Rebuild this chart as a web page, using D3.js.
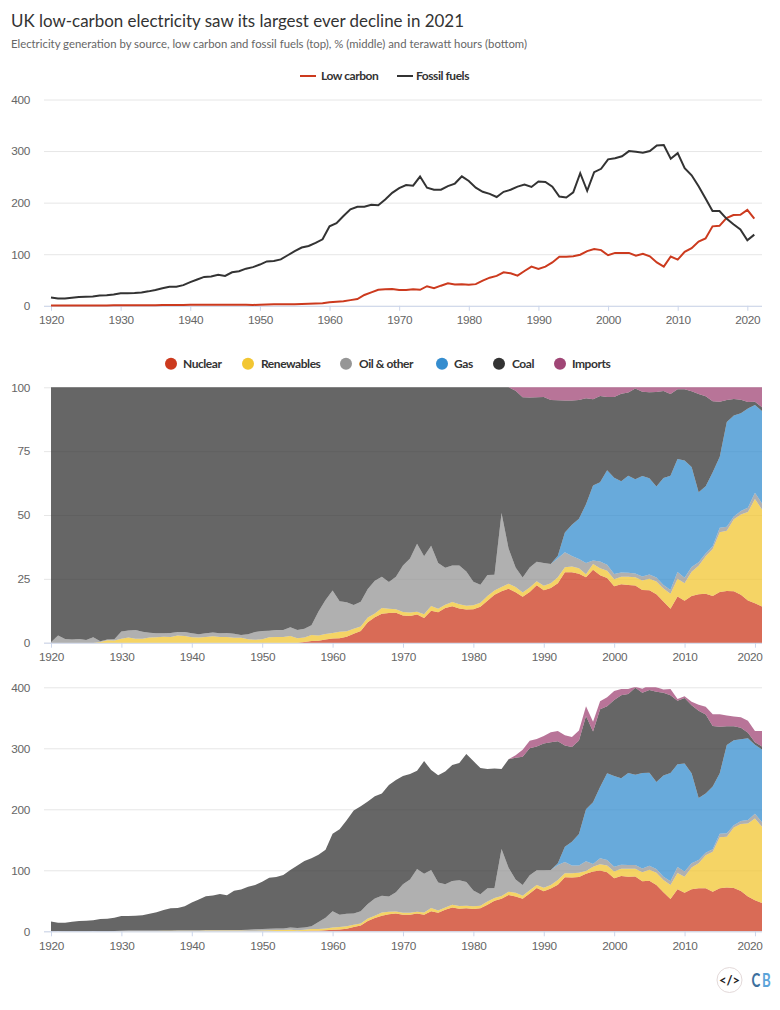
<!DOCTYPE html>
<html>
<head>
<meta charset="utf-8">
<script src="https://cdn.jsdelivr.net/npm/d3@7"></script>
<style>
	body { margin: 0; background: #fff; }
	svg { display: block; font-family: Lato, "Open Sans", sans-serif; }
	.tick text { fill: #666; font-size: 11.8px; letter-spacing: -0.3px; }
	.grid line { stroke: #e6e6e6; }
	.legend text { fill: #333; font-size: 12px; font-weight: bold; letter-spacing: -0.45px; }
</style>
</head>
<body>
<svg id="chart" width="780" height="1010"></svg>
<script>
// readings in TWh, 1920 to 2021
const years = d3.range(1920, 2022);
const nuclear = [0,0,0,0,0,0,0,0,0,0,0,0,0,0,0,0,0,0,0,0,0,0,0,0,0,0,0,0,0,0,0,0,0,0,0,0,
	0.3,0.8,1,1.7,2.6,2.9,4.2,6.9,9.4,17,22,25.5,28,29,27,27,29,27,33,30.6,35.5,39,37,37.7,36.6,37.7,43.7,50,53.5,59.6,57,53.5,62,71,65.6,70,76.5,88.5,88,89,94.5,98,99.5,97,87,90.7,89.6,90,82,83,76,64,53,69,63.4,69,70.5,70.5,65,70.5,71.6,71,66,57,50.8,46.4];
const renewables = [0,0,0,0,0,0,0,0.05,0.2,0.2,0.38,0.5,0.4,0.4,0.57,0.68,0.8,0.83,1.06,1.07,1,1.04,1.3,1.5,1.34,1.3,1.3,1.3,1,0.84,1.13,1.9,2,2.1,2.6,1.9,2.05,2.8,2.6,2.9,3.5,4.3,4,4,3.5,3.9,3.3,5.2,4,3.5,3.5,3.5,3,4,5,3.4,3.5,4.5,4.5,4.3,4.4,4.3,5,4.5,4.5,5.4,6,4.9,5.5,5,5.8,6,7.5,6.5,7,7,4.5,8,10.5,11,11,12,13,12.6,15,18,20,20,23,26.5,26.2,35.5,41.2,54.2,65.5,83.5,83.4,99,110,119.6,134,125];
const oil = [0.03,0.39,0.2,0.2,0.25,0.18,0.39,0.06,0.06,0.11,0.7,0.7,0.87,0.72,0.54,0.47,0.48,0.6,0.53,0.66,0.75,0.68,0.8,0.81,0.92,0.94,1,0.75,1.4,2.36,2.6,2.2,2.4,2.5,3.5,3.5,3.9,4.6,11.8,17.8,26.7,20,20.7,18.4,19.9,23.9,28.4,27.6,25,31.5,46.5,54.5,70,63.5,62.5,46,38,39,42,39,25.7,18.7,21.8,16.5,77,39,22,17.6,24.5,24,28.6,24.5,24.7,18.7,13,12,16,4.5,9.7,9,8,6.4,6,6,6,6.6,6,5.6,6,10,8.4,7,5.3,4,4,6,5.6,4,5,6,8,7.5];
const gas = [0,0,0,0,0,0,0,0,0,0,0,0,0,0,0,0,0,0,0,0,0,0,0,0,0,0,0,0,0,0,0,0,0,0,0,0,0,0,0,0,0,0,0,0,0,0,0,0,0,0,0,0,0,0,0,0,0,0,0,0,0,0,0,0,0,0,0,0,0,0,0,0,
	3,25,39,51.6,85,101,117,142,148.6,142,151,148,156.6,152.4,142.8,166,177.6,168.5,177,147.5,101.6,97,103,99,145,139,134,134,113,119];
const coal = [16,13.6,13.8,15.3,16.8,17.3,17.6,19.9,20.4,21.9,23.8,23.8,24.1,25.3,27.5,30,33.5,36.4,36.5,39.3,45.3,50.3,55.2,56.2,59,57,64,66.3,70.6,72.6,77.4,83.8,84.6,87.5,94.5,102.5,109,111.4,110.2,111.2,127.3,140,153.3,168.6,172,168,167.6,167.4,183,184,177.6,173,161,184.5,164,176,185,190,192.4,209.7,212.3,207,195.5,196,131,178,199.7,210,208,203,208,209.5,200,166,155,153,153,116,127.5,110,124.4,136,129.6,142.5,131.4,135.6,148,135.3,127.4,104,107.5,111.5,143,129.6,99,76.5,30.5,23,18.7,8.7,4,5];
const imports = [0,0,0,0,0,0,0,0,0,0,0,0,0,0,0,0,0,0,0,0,0,0,0,0,0,0,0,0,0,0,0,0,0,0,0,0,0,0,0,0,0,0,0,0,0,0,0,0,0,0,0,0,0,0,0,0,0,0,0,0,0,0,0,0,0,0,
	4,11.6,12.5,12.3,12,16.3,16.7,16.7,16.6,16.5,16,16,12.8,14.6,15,10,8,2,6.8,8,7.2,5.6,10.3,3,3,6,9.7,12.9,19.5,20.3,17.7,16,17,20,18.7,25.5];
const lowCarbon = [0.5,0.5,0.5,0.5,0.5,0.6,0.6,0.7,0.8,0.9,1,1,1,1,1.2,1.3,1.4,1.5,1.6,1.7,1.8,1.9,2,2,2,2,2,2,1.8,1.7,2,2.5,3,3,3.2,3,3.5,4,4.5,5,7,8,9,11,13,21,26,31,32,32.5,30.5,30.5,32,31,38,34,39,43.5,41.5,42,41,42,48.7,54.5,58,65,63,58.4,67.5,76,71.4,76,84,95,95,96,99,106,110,108,98,102.6,102.6,102.6,97,101,96,84,76,95.5,89.6,104.5,111.7,124.7,130.5,154,155,170,176,176.6,186,169];
const fossil = [16,14,14,15.5,17,17.5,18,20,20.5,22,24.5,24.5,25,26,28,30.5,34,37,37,40,46,51,56,57,60,58,65,67,72,75,80,86,87,90,98,106,113,116,122,129,154,160,174,187,192,192,196,195,206,219,228,234,233,250.6,229,225,225,232,237,251,242,229,221,217,211,221,225,231,235,230.5,241,240,231,212,210,220,257,223,259,265.6,284,286,290,300,298.7,297,300,311,311.7,285,296,267,253,232,208,184,183.8,169,158,148,127,138];

const xTicks = d3.range(1920, 2021, 10);
const sourceNames = ['Nuclear', 'Renewables', 'Oil & other', 'Gas', 'Coal', 'Imports'];
const sourceValues = [nuclear, renewables, oil, gas, coal, imports];
const sourceColors = ['#cc3a1e', '#f2c632', '#969696', '#358dcf', '#333333', '#a04676'];
const sourceDots = [171, 248, 346, 442, 499, 560];
const sourceLabels = [183, 261, 359, 454, 512, 572];

const table = years.map((year, i) => {
	const row = { year };
	sourceNames.forEach((name, s) => (row[name] = sourceValues[s][i]));
	return row;
});

const svg = d3.select('#chart');

svg.append('text').attr('x', 11).attr('y', 27).attr('fill', '#333').attr('font-size', 17.5).attr('textLength', 453).attr('lengthAdjust', 'spacingAndGlyphs').text('UK low-carbon electricity saw its largest ever decline in 2021');
svg.append('text').attr('x', 11).attr('y', 48).attr('fill', '#666').attr('font-size', 11.8).attr('textLength', 516).attr('lengthAdjust', 'spacingAndGlyphs').text('Electricity generation by source, low carbon and fossil fuels (top), % (middle) and terawatt hours (bottom)');

const drawAxes = (x, y, yTicks, shiftLast) => {
	const bottom = y.range()[0];
	svg.append('g')
		.attr('class', 'grid')
		.attr('transform', 'translate(44,0)')
		.call(d3.axisLeft(y).tickValues(yTicks).tickSize(-718).tickPadding(14))
		.call((g) => g.select('.domain').remove());

	const axis = svg.append('g')
		.attr('transform', `translate(0,${bottom})`)
		.call(d3.axisBottom(x).tickValues(xTicks).tickFormat(d3.format('d')).tickSize(5).tickPadding(5));
	axis.select('.domain').attr('d', 'M44,0.5H762').attr('stroke', '#ccd6eb');
	axis.selectAll('.tick line').attr('stroke', '#ccd6eb');
	if (shiftLast) {
		axis.selectAll('.tick').filter((d) => d === 2020).select('text').attr('text-anchor', 'end').attr('x', 762 - x(2020));
	}
};

// top chart
const xTop = d3.scaleLinear().domain([1920, 2021]).range([51, 754.3]);
const yTop = d3.scaleLinear().domain([0, 400]).range([305.8, 99.5]);
drawAxes(xTop, yTop, [0, 100, 200, 300, 400], false);

const line = d3.line().x((d, i) => xTop(years[i])).y((d) => yTop(d));
svg.append('path').datum(lowCarbon).attr('d', line).attr('fill', 'none').attr('stroke', '#cc3a1e').attr('stroke-width', 2);
svg.append('path').datum(fossil).attr('d', line).attr('fill', 'none').attr('stroke', '#333333').attr('stroke-width', 2);

const lineLegend = svg.append('g').attr('class', 'legend');
lineLegend.append('line').attr('x1', 300).attr('x2', 316).attr('y1', 76).attr('y2', 76).attr('stroke', '#cc3a1e').attr('stroke-width', 2);
lineLegend.append('text').attr('x', 321).attr('y', 80).text('Low carbon');
lineLegend.append('line').attr('x1', 397).attr('x2', 413).attr('y1', 76).attr('y2', 76).attr('stroke', '#333333').attr('stroke-width', 2);
lineLegend.append('text').attr('x', 416).attr('y', 80).text('Fossil fuels');

// source legend
const dotLegend = svg.append('g').attr('class', 'legend');
sourceNames.forEach((name, s) => {
	dotLegend.append('circle').attr('cx', sourceDots[s]).attr('cy', 363.7).attr('r', 6).attr('fill', sourceColors[s]);
	dotLegend.append('text').attr('x', sourceLabels[s]).attr('y', 368).text(name);
});

// stacked charts
const x = d3.scaleLinear().domain([1920, 2021]).range([51, 762]);

svg.append('clipPath').attr('id', 'plot-clip').append('rect').attr('x', 44).attr('y', 687.3).attr('width', 718).attr('height', 244);

const drawStack = (y, yTicks, domain, offset, clip) => {
	drawAxes(x, y, yTicks, true);
	const yStack = y.copy().domain(domain);
	const series = d3.stack().keys(sourceNames).offset(offset)(table);
	const area = d3.area()
		.x((d) => x(d.data.year))
		.y0((d) => yStack(d[0]))
		.y1((d) => yStack(d[1]));
	svg.append('g')
		.attr('clip-path', clip)
		.selectAll('path')
		.data(series)
		.enter()
		.append('path')
		.attr('d', area)
		.attr('fill', (d, i) => sourceColors[i])
		.attr('fill-opacity', 0.75);
};

const yShare = d3.scaleLinear().domain([0, 100]).range([642.7, 387.3]);
drawStack(yShare, [0, 25, 50, 75, 100], [0, 1], d3.stackOffsetExpand, null);

const yTwh = d3.scaleLinear().domain([0, 400]).range([931.3, 687.3]);
drawStack(yTwh, [0, 100, 200, 300, 400], [0, 400], d3.stackOffsetNone, 'url(#plot-clip)');

// logo
const logo = svg.append('g');
logo.append('circle').attr('cx', 729.5).attr('cy', 980).attr('r', 12.5).attr('fill', '#fff').attr('stroke', '#e3d9d9');
logo.append('text').attr('x', 729.5).attr('y', 984.5).attr('text-anchor', 'middle').attr('font-size', 13).attr('font-weight', 'bold').attr('fill', '#222').text('</>');
logo.append('text').attr('transform', 'translate(751.5,987) scale(0.68,1)').attr('font-size', 19.5).attr('font-weight', 'bold').attr('fill', '#3d6f9e').text('C');
logo.append('text').attr('transform', 'translate(762,987) scale(0.68,1)').attr('font-size', 19.5).attr('font-weight', 'bold').attr('fill', '#5ba4d9').text('B');
</script>
</body>
</html>
